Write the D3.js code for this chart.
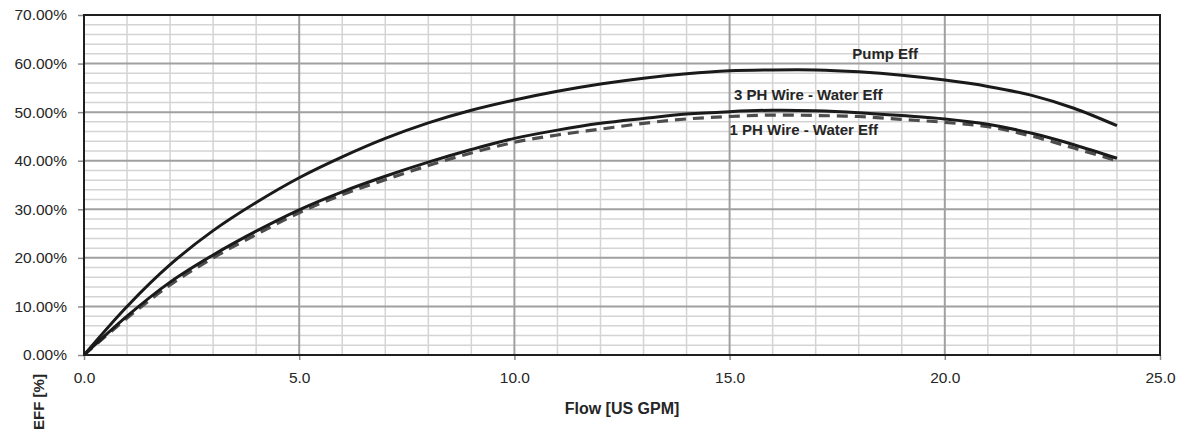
<!DOCTYPE html>
<html>
<head>
<meta charset="utf-8">
<script src="https://cdn.jsdelivr.net/npm/d3@7"></script>
<style>
  html, body { margin: 0; padding: 0; background: #fff; }
  svg { display: block; }
</style>
</head>
<body>
<div id="chart"></div>
<script>
'use strict';

// flow points [US GPM]
var flow = [0, 1, 2, 3, 4, 5, 6, 7, 8, 9, 10, 11, 12, 13, 14, 15, 16, 17, 18, 19, 20, 21, 22, 23, 24];

// efficiencies [%]
var pumpEff = [0, 10.0, 18.6, 25.6, 31.4, 36.5, 40.8, 44.6, 47.8, 50.4, 52.5, 54.3, 55.8, 57.0, 57.9, 58.5, 58.7, 58.7, 58.3, 57.6, 56.6, 55.3, 53.5, 50.8, 47.2];
var wire3Eff = [0, 8.0, 15.0, 20.6, 25.5, 29.9, 33.6, 36.8, 39.7, 42.3, 44.6, 46.3, 47.7, 48.7, 49.6, 50.1, 50.4, 50.3, 49.9, 49.3, 48.6, 47.5, 45.7, 43.3, 40.5];
var wire1Eff = [0, 7.6, 14.4, 20.0, 24.8, 29.3, 33.0, 36.1, 39.0, 41.6, 43.8, 45.3, 46.5, 47.7, 48.6, 49.1, 49.4, 49.3, 49.1, 48.5, 47.9, 47.0, 45.1, 42.6, 40.0];

var xTicks = [0, 5, 10, 15, 20, 25];
var yTicks = [0, 10, 20, 30, 40, 50, 60, 70];

var seriesNames = ['Pump Eff', '3 PH Wire - Water Eff', '1 PH Wire - Water Eff'];
// label anchor in data units [flow, eff]
var labelPos = [[17.85, 62], [15.1, 53.5], [15.0, 46.3]];

var W = 1180, H = 433;
var margin = { top: 15, right: 20, bottom: 78, left: 84 };

var x = d3.scaleLinear().domain([0, 25]).range([margin.left, W - margin.right]);
var y = d3.scaleLinear().domain([0, 70]).range([H - margin.bottom, margin.top]);

var $svg = d3.select('#chart').append('svg')
  .attr('width', W)
  .attr('height', H)
  .style('font-family', '"Liberation Sans", Arial, sans-serif');

// grid - minor first, then major
var $grid = $svg.append('g');

$grid.selectAll('line.vminor')
  .data(d3.range(1, 25).filter(function(d) { return d % 5 !== 0; }))
  .enter().append('line')
  .attr('class', 'vminor')
  .attr('x1', function(d) { return x(d); })
  .attr('x2', function(d) { return x(d); })
  .attr('y1', y(0))
  .attr('y2', y(70))
  .attr('stroke', '#d4d4d4')
  .attr('stroke-width', 1.5);

$grid.selectAll('line.hminor')
  .data(d3.range(2, 70, 2).filter(function(d) { return d % 10 !== 0; }))
  .enter().append('line')
  .attr('class', 'hminor')
  .attr('x1', x(0))
  .attr('x2', x(25))
  .attr('y1', function(d) { return y(d); })
  .attr('y2', function(d) { return y(d); })
  .attr('stroke', '#d4d4d4')
  .attr('stroke-width', 1.5);

$grid.selectAll('line.vmajor')
  .data([5, 10, 15, 20])
  .enter().append('line')
  .attr('x1', function(d) { return x(d); })
  .attr('x2', function(d) { return x(d); })
  .attr('y1', y(0))
  .attr('y2', y(70))
  .attr('stroke', '#a0a0a0')
  .attr('stroke-width', 2);

$grid.selectAll('line.hmajor')
  .data([10, 20, 30, 40, 50, 60])
  .enter().append('line')
  .attr('x1', x(0))
  .attr('x2', x(25))
  .attr('y1', function(d) { return y(d); })
  .attr('y2', function(d) { return y(d); })
  .attr('stroke', '#a0a0a0')
  .attr('stroke-width', 2);

// axes
var yAxis = d3.axisLeft(y)
  .tickValues(yTicks)
  .tickSize(6)
  .tickPadding(11)
  .tickFormat(function(d) { return d.toFixed(2) + '%'; });

var xAxis = d3.axisBottom(x)
  .tickValues(xTicks)
  .tickSize(5)
  .tickPadding(12)
  .tickFormat(d3.format('.1f'));

var $yAxis = $svg.append('g')
  .attr('transform', 'translate(' + x(0) + ',0)')
  .call(yAxis);

var $xAxis = $svg.append('g')
  .attr('transform', 'translate(0,' + y(0) + ')')
  .call(xAxis);

[$yAxis, $xAxis].forEach(function($a) {
  $a.select('.domain').remove();
  $a.selectAll('.tick line').attr('stroke', '#8c8c8c').attr('stroke-width', 1.5);
  $a.selectAll('.tick text')
    .attr('fill', '#262626')
    .style('font-size', '15.5px')
    .style('font-family', '"Liberation Sans", Arial, sans-serif');
});

// plot border
$svg.append('rect')
  .attr('x', x(0))
  .attr('y', y(70))
  .attr('width', x(25) - x(0))
  .attr('height', y(0) - y(70))
  .attr('fill', 'none')
  .attr('stroke', '#1f1f1f')
  .attr('stroke-width', 2);

// curves
var line = d3.line()
  .x(function(d) { return x(d[0]); })
  .y(function(d) { return y(d[1]); })
  .curve(d3.curveCatmullRom.alpha(0.5));

function pairs(vals) {
  return flow.map(function(f, i) { return [f, vals[i]]; });
}

$svg.append('path')
  .attr('d', line(pairs(wire1Eff)))
  .attr('fill', 'none')
  .attr('stroke', '#4d4d4d')
  .attr('stroke-width', 3.2)
  .attr('stroke-dasharray', '11,7');

$svg.append('path')
  .attr('d', line(pairs(wire3Eff)))
  .attr('fill', 'none')
  .attr('stroke', '#1a1a1a')
  .attr('stroke-width', 3);

$svg.append('path')
  .attr('d', line(pairs(pumpEff)))
  .attr('fill', 'none')
  .attr('stroke', '#1a1a1a')
  .attr('stroke-width', 3);

// series labels
$svg.selectAll('text.lbl')
  .data(seriesNames)
  .enter().append('text')
  .attr('class', 'lbl')
  .attr('x', function(d, i) { return x(labelPos[i][0]); })
  .attr('y', function(d, i) { return y(labelPos[i][1]); })
  .attr('dy', '0.35em')
  .attr('fill', '#262626')
  .style('font-size', '15px')
  .style('font-weight', 'bold')
  .text(function(d) { return d; });

// axis titles
$svg.append('text')
  .attr('x', (x(0) + x(25)) / 2)
  .attr('y', 408)
  .attr('dy', '0.35em')
  .attr('text-anchor', 'middle')
  .attr('fill', '#262626')
  .style('font-size', '16px')
  .style('font-weight', 'bold')
  .text('Flow [US GPM]');

$svg.append('text')
  .attr('transform', 'translate(39,402) rotate(-90)')
  .attr('dy', '0.35em')
  .attr('text-anchor', 'middle')
  .attr('fill', '#262626')
  .style('font-size', '15px')
  .style('font-weight', 'bold')
  .text('EFF [%]');
</script>
</body>
</html>
